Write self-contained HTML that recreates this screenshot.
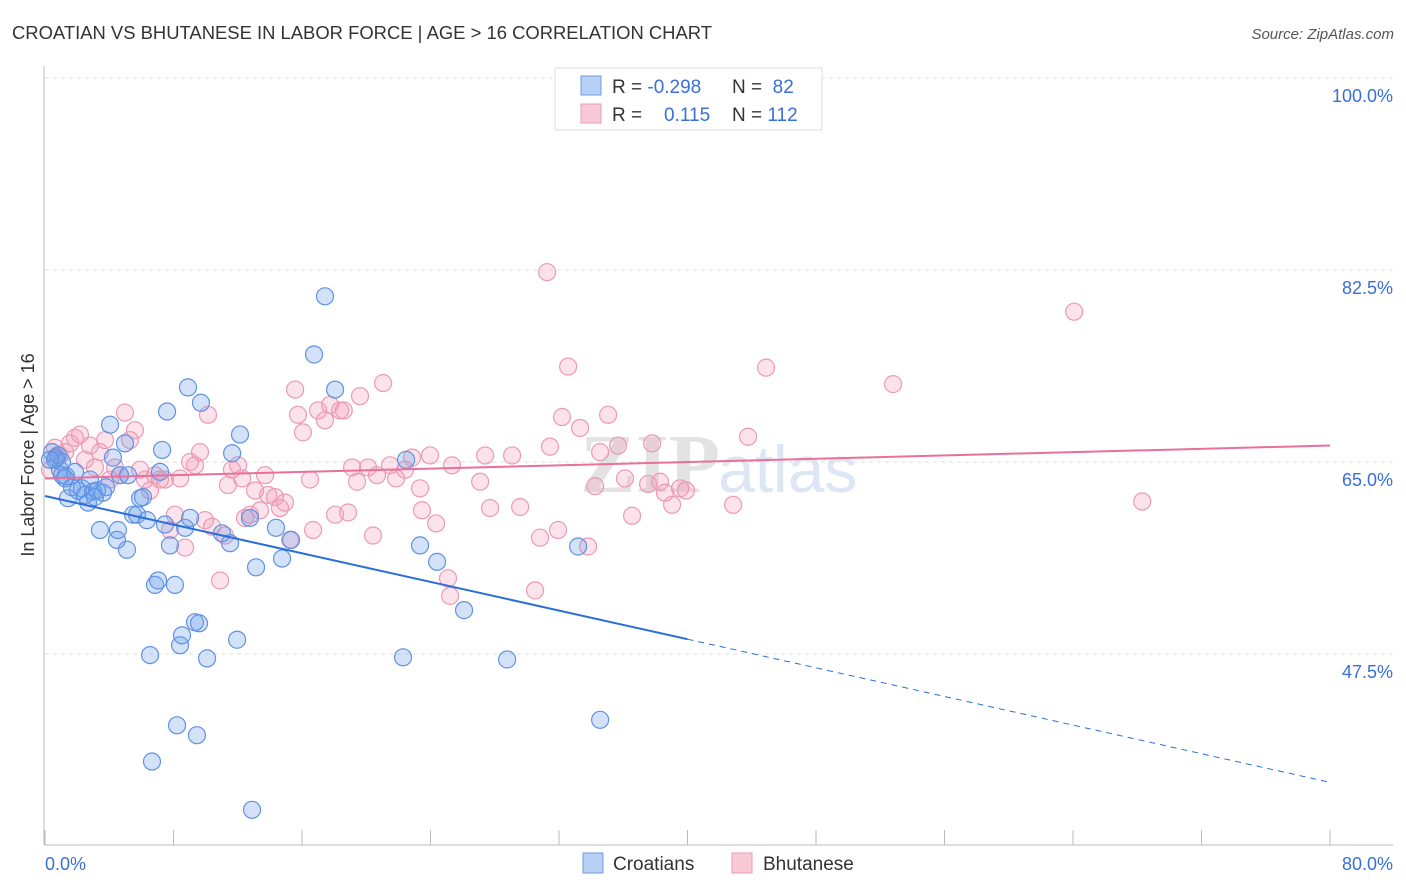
<!DOCTYPE html>
<html><head><meta charset="utf-8"><style>
body{margin:0;background:#fff;font-family:"Liberation Sans",sans-serif}
svg{display:block}
</style></head><body>
<svg id="chart" width="1406" height="892">
<text x="12" y="39" font-size="18" fill="#333" textLength="700" lengthAdjust="spacingAndGlyphs">CROATIAN VS BHUTANESE IN LABOR FORCE | AGE &gt; 16 CORRELATION CHART</text>
<text x="1394" y="39" font-size="15" fill="#555" font-style="italic" text-anchor="end">Source: ZipAtlas.com</text>
<text x="720" y="492" font-size="84" fill="#e3e3e3" text-anchor="end" font-family="Liberation Serif" font-weight="bold">ZIP</text>
<text x="718" y="492" font-size="66" fill="#dce6f4">atlas</text>
<g id="grid"></g><g id="marks"></g>
<text transform="translate(34,455) rotate(-90)" font-size="18" fill="#333" text-anchor="middle">In Labor Force | Age &gt; 16</text>
<text x="45" y="870" font-size="18" fill="#3a6fd8">0.0%</text>
<text x="1393" y="870" font-size="18" fill="#3a6fd8" text-anchor="end">80.0%</text>
<g>
<rect x="555" y="68" width="267" height="62" fill="#fff" stroke="#ddd"/>
<rect x="581" y="76" width="20" height="19" fill="#b8d0f3" stroke="#6a9be0"/>
<rect x="581" y="104" width="20" height="19" fill="#f9c9d8" stroke="#eb9ab5"/>
<text x="612" y="93" font-size="19" fill="#333">R = <tspan fill="#3a6fd8">-0.298</tspan><tspan x="732">N = </tspan><tspan fill="#3a6fd8">&#160;82</tspan></text>
<text x="612" y="121" font-size="19" fill="#333">R = <tspan x="664" fill="#3a6fd8">0.115</tspan><tspan x="732">N = </tspan><tspan fill="#3a6fd8">112</tspan></text>
</g>
<g>
<rect x="583" y="853" width="20" height="20" fill="#b8d0f3" stroke="#6a9be0"/>
<text x="613" y="870" font-size="19" fill="#333">Croatians</text>
<rect x="732" y="853" width="20" height="20" fill="#f9c9d8" stroke="#eb9ab5"/>
<text x="763" y="870" font-size="19" fill="#333">Bhutanese</text>
</g>
</svg>
<script>
const yTicks=[100,82.5,65,47.5];
const yTickLabels=["100.0%","82.5%","65.0%","47.5%"];
const xTicks=[0,8,16,24,32,40,48,56,64,72,80];
const croatianX=[0.44,0.62,0.81,0.93,1.06,1.25,1.43,1.68,1.87,2.05,2.3,2.49,2.68,2.8,2.99,3.24,3.42,3.61,3.8,4.05,4.23,4.48,4.54,4.67,4.98,5.1,5.17,5.48,5.73,5.92,6.1,6.35,6.54,6.66,6.85,7.04,7.16,7.29,7.47,7.6,7.78,8.09,8.22,8.41,8.53,8.72,8.9,9.03,9.34,9.46,9.59,9.71,10.09,11.02,11.52,11.65,11.96,12.14,12.76,12.89,13.14,14.38,14.76,15.32,16.75,17.43,18.06,22.48,22.29,23.35,24.41,26.09,28.77,33.19,34.56,0.68,0.31,1.06,3.11,1.31];
const croatianY=[65.9,65.2,65.6,64.3,65.0,63.5,61.7,62.7,64.1,62.4,62.6,62.0,61.3,63.4,62.3,62.4,58.8,62.2,62.7,68.4,65.4,57.9,58.8,63.8,66.7,57.0,63.8,60.2,60.2,61.7,61.8,59.7,47.4,37.7,53.8,54.2,64.1,66.1,59.3,69.6,57.4,53.8,41.0,48.3,49.2,59.0,71.8,59.9,50.4,40.1,50.3,70.4,47.1,58.5,57.6,65.8,48.8,67.5,59.9,33.3,55.4,59.0,56.2,57.9,74.8,80.1,71.6,65.2,47.2,57.4,55.9,51.5,47.0,57.3,41.5,65.4,65.2,63.8,61.8,63.7];
const bhutaneseX=[0.31,0.62,0.93,1.25,1.56,1.87,2.18,2.49,2.8,3.11,3.42,3.74,4.05,4.36,4.67,4.98,5.29,5.6,5.92,6.23,6.54,6.85,7.16,7.47,7.78,8.09,8.41,8.72,9.03,9.34,9.65,9.96,10.15,10.4,10.9,11.21,11.39,11.64,12.02,12.27,12.45,12.76,13.08,13.39,13.7,13.89,14.32,14.63,14.94,15.26,15.57,15.75,16.06,16.5,16.69,17.0,17.43,17.75,18.06,18.37,18.6,18.87,19.12,19.43,19.61,20.11,20.42,20.67,21.05,21.48,21.86,22.42,22.85,23.35,23.47,23.97,24.35,25.09,25.22,25.34,27.09,27.4,27.71,29.08,29.58,30.51,30.82,31.26,31.44,31.94,32.19,32.57,33.31,33.81,34.25,34.56,35.06,35.68,36.11,36.55,37.55,37.8,38.29,38.6,39.04,39.54,39.91,42.84,43.77,44.89,52.8,64.07,68.31];
const bhutaneseY=[64.3,66.3,65.6,65.9,66.7,67.2,67.5,65.2,66.5,64.5,65.9,67.0,63.4,64.5,63.8,69.5,67.0,67.9,64.3,63.4,62.4,63.8,63.4,63.4,58.8,60.2,63.5,57.2,65.0,64.7,65.9,59.7,69.3,59.1,54.2,58.3,62.9,64.3,64.7,63.5,59.9,60.2,62.4,60.6,63.8,62.0,61.8,60.8,61.3,57.9,71.6,69.3,67.7,63.4,58.8,69.7,68.8,70.2,60.2,69.7,69.7,60.4,64.5,63.2,71.0,64.5,58.3,63.8,72.2,64.7,63.5,64.3,65.4,62.6,60.6,65.6,59.4,54.4,52.8,64.7,63.2,65.6,60.8,65.6,60.9,53.3,58.1,82.3,66.4,58.8,69.1,73.7,68.1,57.3,62.8,65.9,69.3,66.5,63.5,60.1,63.0,66.7,63.2,62.2,61.1,62.6,62.4,61.1,67.3,73.6,72.1,78.7,61.4];
const croatianTrend=[61.9,35.8];
const bhutaneseTrend=[63.5,66.5];

const NS="http://www.w3.org/2000/svg";
const xS=v=>45+v/80*1285;
const yS=v=>462-(v-65)*192/17.5;
function mk(tag,attrs,parent){const e=document.createElementNS(NS,tag);for(const k in attrs)e.setAttribute(k,attrs[k]);parent.appendChild(e);return e;}
const grid=document.getElementById('grid'),marks=document.getElementById('marks');
const svg=document.getElementById('chart');
yTicks.forEach((t,i)=>{
  const l=mk('line',{x1:45,x2:1393,y1:yS(t),y2:yS(t),stroke:'#ddd','stroke-dasharray':'4,4'},grid);
  
  
  const tx=mk('text',{x:1393,y:yS(t)+24,'font-size':18,fill:'#3a6fd8','text-anchor':'end'},svg);
  tx.textContent=yTickLabels[i];
  
  
});
const ax=mk('line',{x1:44,x2:44,y1:66,y2:845,stroke:'#bbb'},grid);


const bx=mk('line',{x1:44,x2:1393,y1:845,y2:845,stroke:'#bbb'},grid);


xTicks.forEach(t=>{
  const l=mk('line',{x1:xS(t),x2:xS(t),y1:830,y2:845,stroke:'#bbb'},grid);
  
  
});
function pts(xs,ys,fill,stroke,name){
  xs.forEach((x,i)=>{
    const c=mk('circle',{cx:xS(x),cy:yS(ys[i]),r:8.5,fill:fill,stroke:stroke,'stroke-width':1.2},marks);
    
    
  });
}
pts(bhutaneseX,bhutaneseY,'rgba(245,160,190,0.3)','#eb9ab5','bhutanese-point');
pts(croatianX,croatianY,'rgba(110,160,235,0.3)','#5f93e0','croatian-point');
const bMid=croatianTrend[0]+(croatianTrend[1]-croatianTrend[0])*0.5;
const bl=mk('line',{x1:xS(0),y1:yS(croatianTrend[0]),x2:xS(40),y2:yS(bMid),stroke:'#2a6ed8','stroke-width':2},marks);


const bd=mk('line',{x1:xS(40),y1:yS(bMid),x2:xS(80),y2:yS(croatianTrend[1]),stroke:'#2a6ed8','stroke-width':1,'stroke-dasharray':'6,5'},marks);


const pl=mk('line',{x1:xS(0),y1:yS(bhutaneseTrend[0]),x2:xS(80),y2:yS(bhutaneseTrend[1]),stroke:'#e8709a','stroke-width':2},marks);


</script>
</body></html>
